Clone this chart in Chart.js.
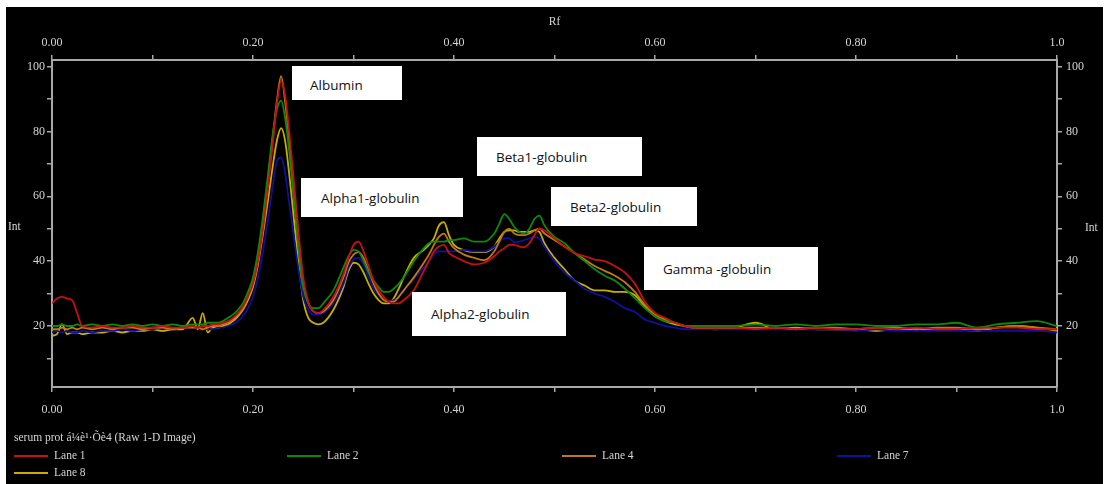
<!DOCTYPE html>
<html>
<head>
<meta charset="utf-8">
<script src="https://cdn.jsdelivr.net/npm/chart.js@4.4.0/dist/chart.umd.min.js"></script>
<style>
html,body{margin:0;padding:0;background:#fff;width:1104px;height:484px;overflow:hidden;}
#wrap{position:absolute;left:6px;top:7px;width:1097px;height:477px;background:#000;}
.note{position:absolute;background:#fff;font-family:"Open Sans",sans-serif;font-size:13.5px;color:#111;display:flex;align-items:center;box-sizing:border-box;}
</style>
</head>
<body>
<div id="wrap"><canvas id="chart"></canvas></div>

<div class="note" style="left:292px;top:66px;width:110px;height:34px;padding-left:18px;padding-top:3px">Albumin</div>
<div class="note" style="left:301px;top:178px;width:162px;height:39px;padding-left:20px">Alpha1-globulin</div>
<div class="note" style="left:477px;top:137px;width:165px;height:39px;padding-left:19px">Beta1-globulin</div>
<div class="note" style="left:551px;top:187px;width:146px;height:39px;padding-left:19px">Beta2-globulin</div>
<div class="note" style="left:644px;top:247px;width:174px;height:43px;padding-left:19px">Gamma -globulin</div>
<div class="note" style="left:412px;top:292px;width:154px;height:44px;padding-left:19px">Alpha2-globulin</div>

<script>
// Rf positions shared by every lane
const rf = [
  0, 0.005, 0.01, 0.015, 0.02, 0.025, 0.03, 0.04, 0.05, 0.06, 0.07, 0.08, 0.09, 0.10, 0.11, 0.12, 0.13, 0.14, 0.145, 0.15, 0.155, 0.16,
  0.165, 0.17, 0.175, 0.18, 0.185, 0.19, 0.195, 0.20, 0.205, 0.21, 0.215, 0.22, 0.224, 0.228, 0.232, 0.236, 0.24, 0.245, 0.25, 0.255, 0.26, 0.265, 0.27, 0.28,
  0.29, 0.295, 0.30, 0.305, 0.31, 0.315, 0.32, 0.325, 0.33, 0.335, 0.34, 0.345, 0.35, 0.36, 0.37, 0.375, 0.38, 0.385, 0.39, 0.395, 0.40,
  0.41, 0.42, 0.43, 0.44, 0.445, 0.45, 0.455, 0.46, 0.465, 0.47, 0.475, 0.48, 0.485, 0.49, 0.50, 0.51, 0.52, 0.53, 0.54, 0.55,
  0.56, 0.57, 0.58, 0.59, 0.60, 0.61, 0.62, 0.63, 0.64,
  0.66, 0.68, 0.70, 0.72, 0.74, 0.76, 0.78, 0.80, 0.82, 0.84, 0.86, 0.88, 0.90, 0.92, 0.94, 0.96, 0.98, 1.00
];

const lane1 = [
  27, 28.5, 29, 28.5, 28, 24, 20, 19.5, 20, 19.5, 19.5, 20, 19.5, 19.5, 20, 19.5, 19.5, 20, 19.5, 20, 20, 20.5,
  20.5, 21, 21.5, 22.5, 24, 26, 29, 33, 40, 50, 63, 77, 89, 95.5, 91, 80, 67, 50, 35, 27.5, 24.5, 24, 25, 29,
  36, 41, 45, 46, 43, 38.5, 34, 31, 29, 27.5, 27, 27, 28, 31, 37, 40, 43, 44.5, 45, 42.5, 41.5,
  40, 39, 39.5, 41.5, 43, 44, 45, 45, 44.5, 44.3, 45.5, 48, 50, 49.5, 47, 44.5, 42.5, 41.5, 40.5, 40,
  38.5, 36.5, 33, 27.5, 24, 22.5, 21, 20, 19.5,
  19.5, 19.5, 19, 19.5, 19, 19.5, 19, 19, 19.5, 19, 19.5, 19, 19, 19.5, 19.5, 19.5, 19, 19
];

const lane2 = [
  20, 20, 20.5, 20, 20, 20.5, 20, 20.5, 20, 20.5, 20, 20.5, 20, 20.5, 20, 20.5, 20, 20.5, 20.5, 20.5, 21, 21,
  21, 21.5, 22.5, 23.5, 25, 27, 30.5, 35, 43, 54, 67, 80, 87, 89.5, 84, 74, 62, 45, 32, 27, 25.5, 25.5, 27, 31,
  38, 41.5, 43.5, 43, 40, 36.5, 34, 32, 30.5, 30.5, 31.5, 33, 35, 40, 44, 45.5, 46, 46, 46, 46.5, 46.5,
  47, 46, 46, 48.5, 51.5, 54.5, 53, 50.5, 49, 48.6, 50, 53, 54, 51, 47.5, 45.5, 42.5, 40, 37.5, 35.5,
  34, 31.5, 28.6, 25.5, 23, 21.5, 21, 20, 20,
  20, 20, 20.5, 20, 20.5, 20, 20.5, 20.5, 20, 20, 20.5, 20.5, 21, 19.5, 20.5, 21, 21.5, 20
];

const lane4 = [
  19, 19, 19.5, 19, 19.5, 19, 19.5, 19, 19.5, 19, 19.5, 19.5, 19, 19.5, 19.5, 19, 19.5, 19.5, 19.5, 19, 19.5, 20,
  20, 20.5, 21, 22, 23.5, 25.5, 29, 33.5, 41, 52, 65, 79, 90, 97, 89, 77, 62, 45, 33, 27, 24.5, 24, 24.5, 28,
  35, 39.5, 42, 42.8, 41, 37, 33, 30, 28, 27.5, 27.5, 29, 31, 35, 39.5, 42, 45, 47.5, 48.5, 46, 44,
  42, 41, 40.3, 43, 46, 49, 50, 48.5, 48, 48, 48.5, 49.5, 50, 48.5, 46.5, 44.5, 42.5, 40.5, 38.5, 37,
  35.5, 33.5, 30.5, 26.5, 23.5, 22, 21, 20, 19.5,
  19.5, 19.5, 19.5, 19.5, 19, 19.5, 19.5, 19, 19.5, 19.5, 19, 19.5, 19.5, 19, 19.5, 20, 19.5, 19
];

const lane7 = [
  18, 18.5, 18, 18.5, 18, 18, 18.5, 18, 18.5, 18.5, 19, 18.5, 19, 19, 19.5, 19, 19.5, 19.5, 19.5, 19.5, 19, 19,
  19.5, 19.5, 20, 20.5, 21.5, 23, 25.5, 29, 35, 43, 53, 64, 71, 72, 67, 58, 49, 38, 29, 25, 23.5, 23.5, 24, 27,
  33, 38, 40.5, 41, 39, 35, 31.5, 29.5, 28, 27.5, 28, 29, 31, 34.5, 38, 40, 42, 43, 43, 43, 43,
  43.5, 43, 43, 44.5, 46, 47, 47, 45.8, 46, 46.5, 47, 47.4, 47, 44.5, 40, 36.5, 34, 31.5, 30, 29,
  27.5, 25.5, 24.3, 22, 21, 20, 19.5, 19, 19,
  19, 19, 19, 19, 19, 19, 19, 18.5, 19, 18.5, 18.5, 18.5, 18.5, 18.5, 18.5, 18.5, 18.5, 18
];

const lane8 = [
  17, 17.5, 20.5, 17.5, 18, 18, 17.5, 18, 18, 18.5, 18, 18.5, 18.5, 19, 18.5, 19, 19, 22.5, 19, 24, 18, 19.5,
  19.5, 20, 20.5, 21.5, 23, 25, 28, 32, 39, 48.5, 59, 70, 77.5, 81, 77, 67, 55, 40, 28, 22.5, 21, 20.5, 21, 25,
  32, 37, 39.5, 39, 36.5, 33, 30, 28, 27, 27, 28.5, 31.5, 35, 41, 43.5, 45, 47, 51, 52, 48, 45,
  43.4, 42.8, 42.8, 44.5, 47, 49, 49.5, 49.5, 49, 49, 49, 49.5, 49, 45.5, 41, 37.5, 34, 32.5, 31, 31,
  30.5, 30.5, 29.5, 26, 23, 21.5, 20.5, 20, 19.5,
  19, 19.5, 21, 19, 19.5, 19, 19, 19, 18.5, 19, 19, 19, 19, 18.5, 19.5, 20, 19.5, 18.5
];

const laneNames = ['Lane 1', 'Lane 2', 'Lane 4', 'Lane 7', 'Lane 8'];
const laneValues = [lane1, lane2, lane4, lane7, lane8];
const laneColors = ['#c81010', '#0c8a10', '#c07814', '#1010a0', '#c8ae00'];

const xTickValues = [0, 0.1, 0.2, 0.3, 0.4, 0.5, 0.6, 0.7, 0.8, 0.9, 1.0];
const yTickValues = [10, 20, 30, 40, 50, 60, 70, 80, 90, 100];

const LEGEND_TITLE = 'serum prot á¼è¹·Õè4 (Raw 1-D Image)';
const TEXT_COLOR = '#d4d4d4';
const AXIS_COLOR = '#a8a8a8';
const SERIF = '"Liberation Serif", "Times New Roman", serif';

// legend slot positions on the canvas (x of line start, y of row centre)
const legendSlots = [[8, 449], [281, 449], [556, 449], [831, 449], [8, 466]];

function xLabel(v){
  const k = Math.round(v * 10);
  if (k % 2) return '';
  return k === 10 ? '1.0' : (k / 10).toFixed(2);
}
function yLabel(v){ return v % 20 === 0 ? String(v) : ''; }

const extraText = {
  id: 'extraText',
  afterDraw(chart){
    const ctx = chart.ctx, a = chart.chartArea;
    ctx.save();
    ctx.font = '11.5px ' + SERIF;
    ctx.fillStyle = TEXT_COLOR;
    ctx.textBaseline = 'middle';
    ctx.textAlign = 'left';
    const midY = (a.top + a.bottom) / 2;
    ctx.fillText('Int', 2, midY + 3);
    ctx.fillText('Int', 1079, midY + 4);

    ctx.fillText(LEGEND_TITLE, 8, 431);
    chart.data.datasets.forEach((ds, i) => {
      const p = legendSlots[i];
      ctx.strokeStyle = ds.borderColor;
      ctx.lineWidth = 2;
      ctx.beginPath(); ctx.moveTo(p[0], p[1]); ctx.lineTo(p[0] + 34, p[1]); ctx.stroke();
      ctx.fillText(ds.label, p[0] + 40, p[1]);
    });
    ctx.restore();
  }
};

function xAxis(position, height, padding, title){
  return {
    type: 'linear', position, min: 0, max: 1,
    afterBuildTicks: s => { s.ticks = xTickValues.map(v => ({value: v})); },
    afterFit: s => { s.height = height; },
    ticks: {autoSkip: false, maxRotation: 0, color: TEXT_COLOR, font: {family: SERIF, size: 12}, padding, callback: xLabel},
    grid: {drawOnChartArea: false, drawTicks: true, tickLength: 5, color: AXIS_COLOR, lineWidth: 1.5},
    border: {color: AXIS_COLOR, width: 2},
    title: title
  };
}
function yAxis(position, padding){
  return {
    type: 'linear', position, min: 1.2, max: 102,
    afterBuildTicks: s => { s.ticks = yTickValues.map(v => ({value: v})); },
    afterFit: s => { s.width = 46; },
    ticks: {autoSkip: false, color: TEXT_COLOR, font: {family: SERIF, size: 12}, padding, callback: yLabel},
    grid: {drawOnChartArea: false, drawTicks: true, tickLength: 5, color: AXIS_COLOR, lineWidth: 1.5},
    border: {color: AXIS_COLOR, width: 2}
  };
}

const datasets = laneNames.map((name, i) => ({
  label: name,
  data: rf.map((x, j) => ({x, y: laneValues[i][j]})),
  borderColor: laneColors[i],
  borderWidth: 1.8,
  pointRadius: 0,
  fill: false,
  cubicInterpolationMode: 'monotone'
}));

new Chart(document.getElementById('chart'), {
  type: 'line',
  data: {datasets},
  plugins: [extraText],
  options: {
    responsive: true,
    maintainAspectRatio: false,
    animation: false,
    layout: {padding: {left: 0, right: 0, top: 0, bottom: 57}},
    plugins: {legend: {display: false}, tooltip: {enabled: false}},
    scales: {
      x: xAxis('bottom', 40, 11, {display: false}),
      x2: xAxis('top', 53, 5, {display: true, text: 'Rf', color: TEXT_COLOR, font: {family: SERIF, size: 11.5}, padding: {top: 8, bottom: 0}}),
      y: yAxis('left', 2),
      y2: yAxis('right', 4)
    }
  }
});
</script>
</body>
</html>
